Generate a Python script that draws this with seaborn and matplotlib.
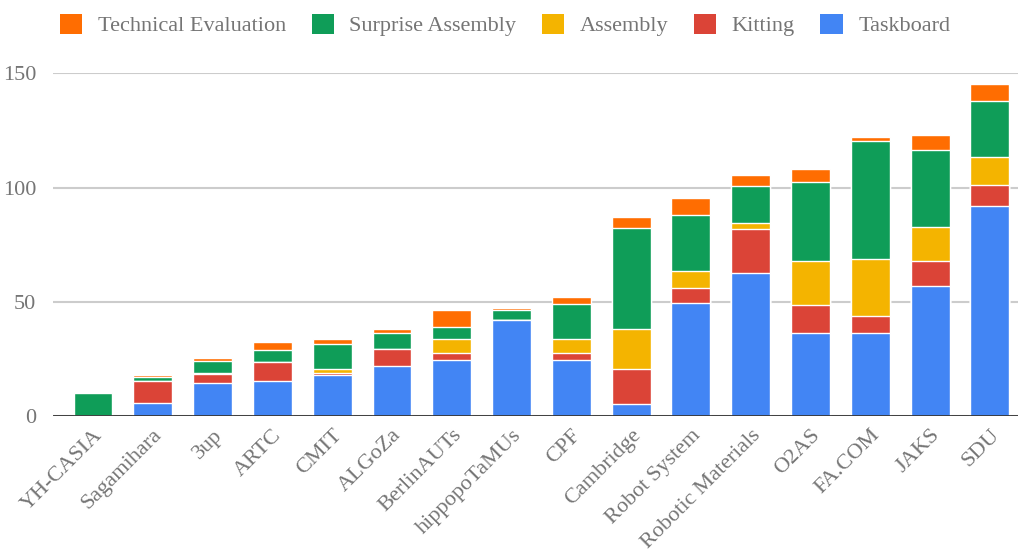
import numpy as np
import pandas as pd
import seaborn as sns
import matplotlib.pyplot as plt
from matplotlib.patches import Patch

# Donnees
teams = ["YH-CASIA", "Sagamihara", "3up", "ARTC", "CMIT", "ALGoZa", "BerlinAUTs",
         "hippopoTaMUs", "CPF", "Cambridge", "Robot System", "Robotic Materials",
         "O2AS", "FA.COM", "JAKS", "SDU"]
taskboard = [0, 5.5, 14.6, 15.3, 17.9, 22.0, 24.7, 42.2, 24.7, 5.4, 49.6, 62.4, 36.5, 36.2, 57.0, 92.1]
kitting = [0, 9.8, 3.9, 8.5, 1.1, 7.2, 2.9, 0, 2.9, 15.3, 6.4, 19.6, 12.2, 7.7, 10.8, 9.0]
assembly = [0, 0, 0.5, 0, 1.6, 0.3, 6.2, 0, 6.2, 17.5, 7.5, 2.6, 19.1, 24.8, 14.9, 12.2]
surprise = [9.9, 1.9, 4.9, 5.1, 10.8, 7.0, 5.1, 4.3, 15.1, 43.9, 24.5, 16.1, 34.5, 51.7, 33.7, 24.6]
technical = [0.7, 0.9, 1.6, 3.3, 2.3, 1.6, 7.5, 0.8, 3.2, 5.0, 7.6, 4.8, 5.8, 1.7, 6.6, 7.4]

series = ["Taskboard", "Kitting", "Assembly", "Surprise Assembly", "Technical Evaluation"]
colors = ["#4285F4", "#DB4437", "#F4B400", "#0F9D58", "#FF6D01"]

df = pd.DataFrame({"team": teams, "Taskboard": taskboard, "Kitting": kitting,
                   "Assembly": assembly, "Surprise Assembly": surprise,
                   "Technical Evaluation": technical})
cum = df[series].cumsum(axis=1)

sns.set_style("white")
plt.rcParams["font.family"] = ["Liberation Serif", "DejaVu Serif"]

fig = plt.figure(figsize=(10.18, 5.54), dpi=100)
ax = fig.add_axes([0.052, 0.249, 0.948, 0.6187])

# empilement : on dessine les cumuls du haut vers le bas
for name, col in zip(series[::-1], colors[::-1]):
    sns.barplot(x=df["team"], y=cum[name], color=col, saturation=1,
                width=0.65, ax=ax, zorder=3)

ax.set_ylim(0, 150)
ax.set_xlim(-0.67, 15.47)
ax.set_yticks([0, 50, 100, 150])
ax.set_xlabel("")
ax.set_ylabel("")
ax.grid(axis="y", color="#cccccc", linewidth=1.5, zorder=0)
ax.axhline(0, color="#333333", linewidth=2, zorder=4)
for s in ax.spines.values():
    s.set_visible(False)
ax.tick_params(axis="both", length=0, labelsize=16, labelcolor="#757575")
ax.tick_params(axis="y", pad=12)
plt.setp(ax.get_xticklabels(), rotation=45, ha="right", rotation_mode="anchor")
ax.tick_params(axis="x", pad=7)

handles = [Patch(facecolor=c, edgecolor="none") for c in colors[::-1]]
fig.legend(handles, series[::-1], loc="center left", bbox_to_anchor=(0.059, 0.955),
           ncol=5, frameon=False, fontsize=16, labelcolor="#757575",
           handlelength=1.0, handleheight=1.0, handletextpad=0.7,
           columnspacing=1.15, borderpad=0, borderaxespad=0)

plt.savefig("out.png", dpi=100)
